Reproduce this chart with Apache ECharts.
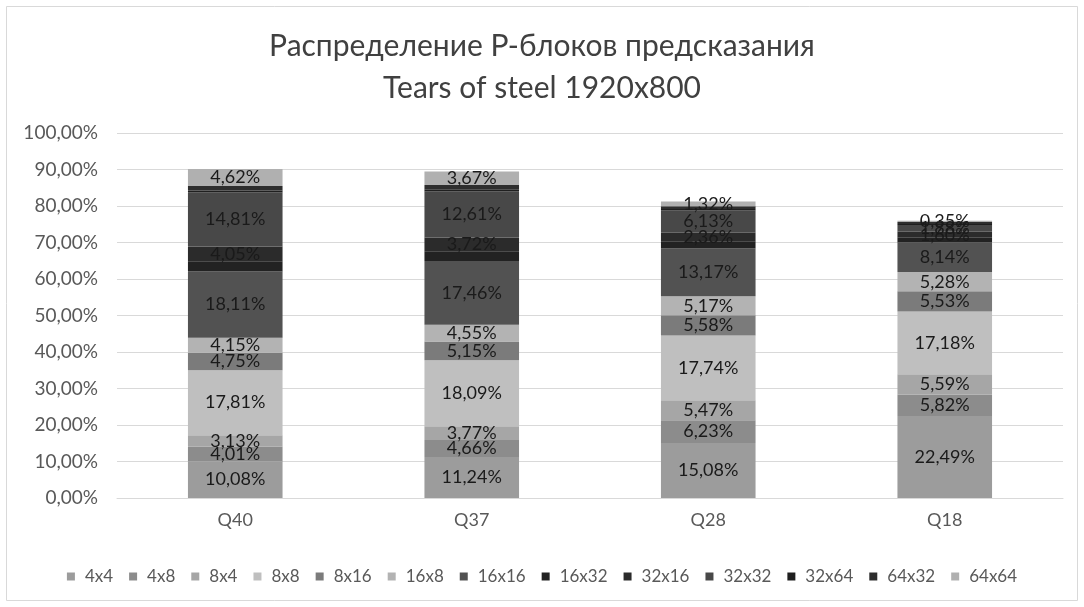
<!DOCTYPE html>
<html>
<head>
<meta charset="utf-8">
<script src="https://cdn.jsdelivr.net/npm/echarts@6/dist/echarts.min.js"></script>
<style>
html,body{margin:0;padding:0;background:#fff;}
#chart{width:1084px;height:607px;}
</style>
</head>
<body>
<div id="chart"></div>
<script>
const categories = ['Q40', 'Q37', 'Q28', 'Q18'];
const seriesNames = ['4x4','4x8','8x4','8x8','8x16','16x8','16x16','16x32','32x16','32x32','32x64','64x32','64x64'];
const v4x4   = [10.08, 11.24, 15.08, 22.49];
const v4x8   = [4.01, 4.66, 6.23, 5.82];
const v8x4   = [3.13, 3.77, 5.47, 5.59];
const v8x8   = [17.81, 18.09, 17.74, 17.18];
const v8x16  = [4.75, 5.15, 5.58, 5.53];
const v16x8  = [4.15, 4.55, 5.17, 5.28];
const v16x16 = [18.11, 17.46, 13.17, 8.14];
const v16x32 = [2.80, 2.70, 1.90, 1.30];
const v32x16 = [4.05, 3.72, 2.36, 1.60];
const v32x32 = [14.81, 12.61, 6.13, 1.88];
const v32x64 = [0.55, 0.50, 0.35, 0.25];
const v64x32 = [1.25, 1.30, 0.75, 0.55];
const v64x64 = [4.62, 3.67, 1.32, 0.35];
const yTicks = [0,10,20,30,40,50,60,70,80,90,100];
const titleLines = ['Распределение Р-блоков предсказания', 'Tears of steel 1920x800'];

const values = [v4x4,v4x8,v8x4,v8x8,v8x16,v16x8,v16x16,v16x32,v32x16,v32x32,v32x64,v64x32,v64x64];
const colors = ['#9c9c9c','#8c8c8c','#a6a6a6','#bfbfbf','#7b7b7b','#b3b3b3','#525252','#222222','#2b2b2b','#484848','#1f1f1f','#2e2e2e','#b0b0b0'];
const showLabel = [true,true,true,true,true,true,true,false,true,true,false,false,true];

const fmt = v => v.toFixed(2).replace('.', ',') + '%';
const FONT = 'Lato';

const chart = echarts.init(document.getElementById('chart'));
chart.setOption({
  backgroundColor: '#fff',
  animation: false,
  textStyle: { fontFamily: FONT },
  graphic: [{
    type: 'rect', shape: { x: 6.5, y: 6.5, width: 1071, height: 594 },
    style: { fill: 'none', stroke: '#d9d9d9', lineWidth: 1 }, silent: true, z: -1
  }, {
    type: 'text', x: 542, y: 46,
    style: { text: titleLines[0], fontFamily: FONT, fontSize: 30, fill: '#404040', textAlign: 'center', textVerticalAlign: 'middle' }
  }, {
    type: 'text', x: 542, y: 88,
    style: { text: titleLines[1], fontFamily: FONT, fontSize: 30, fill: '#404040', textAlign: 'center', textVerticalAlign: 'middle' }
  }],
  legend: {
    bottom: 17, left: 'center',
    itemWidth: 8, itemHeight: 8, itemGap: 16,
    icon: 'rect',
    textStyle: { fontFamily: FONT, fontSize: 17, color: '#595959', padding: [0,0,0,5] },
    data: seriesNames
  },
  grid: { left: 117, right: 21, top: 133, bottom: 109, containLabel: false },
  xAxis: {
    type: 'category', data: categories,
    axisLine: { lineStyle: { color: '#d9d9d9' } },
    axisTick: { show: false },
    axisLabel: { color: '#595959', fontSize: 18, margin: 13, fontFamily: FONT }
  },
  yAxis: {
    type: 'value', min: yTicks[0], max: yTicks[yTicks.length-1], interval: 10,
    axisLine: { show: false }, axisTick: { show: false },
    splitLine: { lineStyle: { color: '#d9d9d9' } },
    axisLabel: { color: '#595959', fontSize: 19, margin: 19, fontFamily: FONT, formatter: v => fmt(v) }
  },
  series: seriesNames.map((n, i) => ({
    name: n, type: 'bar', stack: 'all', barWidth: '40%',
    data: values[i],
    itemStyle: { color: colors[i] },
    label: {
      show: showLabel[i], position: 'inside', color: '#1a1a1a', fontSize: 18, fontFamily: FONT,
      formatter: p => fmt(p.value)
    },
    labelLayout: { hideOverlap: false }
  }))
});
</script>
</body>
</html>
